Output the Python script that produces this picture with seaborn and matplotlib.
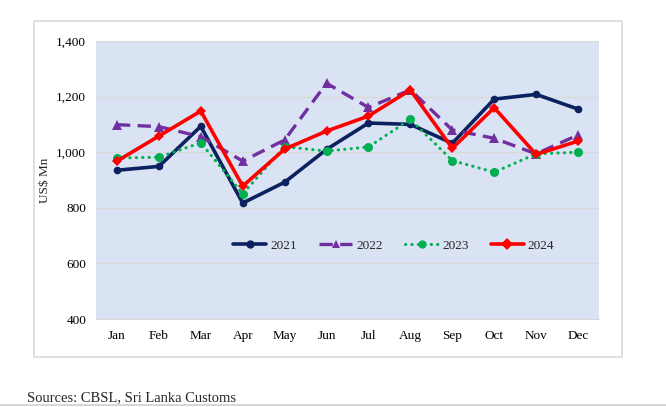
import pandas as pd
import seaborn as sns
import matplotlib.pyplot as plt
from matplotlib.patches import Rectangle
from matplotlib.lines import Line2D

months = ['Jan', 'Feb', 'Mar', 'Apr', 'May', 'Jun', 'Jul', 'Aug', 'Sep', 'Oct', 'Nov', 'Dec']
y2021 = [935, 949, 1093, 817, 892, 1010, 1105, 1100, 1032, 1191, 1208, 1155]
y2022 = [1099, 1092, 1056, 968, 1044, 1248, 1161, 1224, 1080, 1050, 994, 1062]
y2023 = [979, 982, 1034, 850, 1020, 1004, 1019, 1118, 970, 928, 994, 1000]
y2024 = [968, 1058, 1148, 878, 1011, 1076, 1130, 1224, 1014, 1160, 992, 1040]


def main():
    sns.set_style('white')
    plt.rcParams['font.family'] = ['Liberation Serif', 'DejaVu Serif']

    fig = plt.figure(figsize=(6.66, 4.07), dpi=100)
    W, H = 666, 407
    # outer chart frame
    fig.patches.append(Rectangle((34 / W, 1 - 357 / H), (622 - 34) / W, (357 - 21) / H,
                                 transform=fig.transFigure, fill=False,
                                 edgecolor='#d9d9d9', linewidth=1.2))
    fig.add_artist(Line2D([0, 1], [1 - 404.5 / H] * 2, transform=fig.transFigure,
                          color='#d0d0d0', linewidth=1.2))

    ax = fig.add_axes([96 / W, 1 - 319 / H, (599 - 96) / W, (319 - 41) / H])
    ax.set_facecolor('#dae3f3')

    df = pd.DataFrame({'month': months, '2021': y2021, '2022': y2022,
                       '2023': y2023, '2024': y2024})

    sns.lineplot(df, x='month', y='2021', ax=ax, color='#0b2160', linewidth=2.6,
                 marker='o', markersize=5.5, markeredgewidth=0, label='2021', zorder=3)
    sns.lineplot(df, x='month', y='2022', ax=ax, color='#7030a0', linewidth=2.4,
                 marker='^', markersize=6.5, markeredgewidth=0, label='2022', zorder=3)
    sns.lineplot(df, x='month', y='2023', ax=ax, color='#00b050', linewidth=2.2,
                 marker='o', markersize=6.5, markeredgewidth=0, label='2023', zorder=3)
    sns.lineplot(df, x='month', y='2024', ax=ax, color='#ff0000', linewidth=2.6,
                 marker='D', markersize=5.5, markeredgewidth=0, label='2024', zorder=4)
    lines = ax.get_lines()
    lines[1].set_dashes([4, 2.2])
    lines[2].set_dashes([0.1, 2.0])
    lines[2].set_dash_capstyle('round')

    ax.set_xlim(-0.5, 11.5)
    ax.set_ylim(400, 1400)
    ax.set_yticks(range(400, 1401, 200))
    ax.set_yticklabels([f'{v:,}' for v in range(400, 1401, 200)])
    ax.grid(axis='y', color='#d9d9d9', linewidth=1)
    ax.set_axisbelow(True)
    for s in ['top', 'right', 'left']:
        ax.spines[s].set_visible(False)
    ax.spines['bottom'].set_color('#d9d9d9')
    ax.tick_params(axis='both', length=0, labelsize=9.5, colors='black')
    ax.tick_params(axis='x', pad=8)
    ax.tick_params(axis='y', pad=7)
    ax.set_xlabel('')
    ax.set_ylabel('US$ Mn', fontsize=9.5, labelpad=4)

    leg = ax.legend(loc='center', bbox_to_anchor=(0.592, 0.263), ncol=4, frameon=False,
                    fontsize=9.5, handlelength=2.5, columnspacing=1.7, handletextpad=0.3)
    for h in leg.get_lines():
        h.set_markersize(6)

    fig.text(27 / W, 1 - 398 / H, 'Sources: CBSL, Sri Lanka Customs',
             fontsize=10.5, va='center', ha='left')

    plt.savefig('out.png', dpi=100)


if __name__ == '__main__':
    main()
